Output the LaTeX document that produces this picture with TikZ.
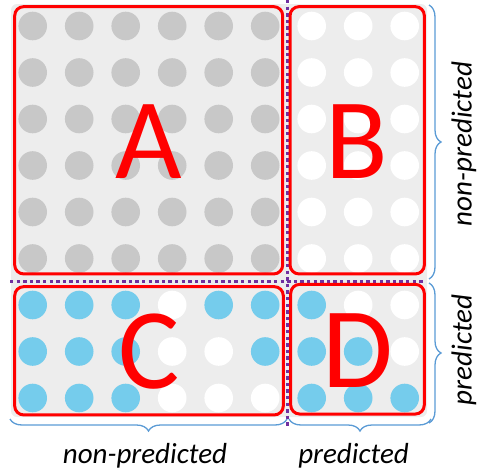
\documentclass[tikz,border=0pt]{standalone}
\usepackage{fontspec}
\newfontfamily\calib{Carlito}
\usetikzlibrary{decorations.pathreplacing}
\definecolor{panelgray}{RGB}{237,237,237}
\definecolor{dotgray}{RGB}{200,200,200}
\definecolor{dotblue}{RGB}{117,204,236}
\definecolor{divpurple}{RGB}{112,48,160}
\definecolor{braceblue}{RGB}{91,155,213}

\begin{document}
\begin{tikzpicture}[x=1pt,y=-1pt,
  dot/.style={circle,inner sep=0pt,minimum size=28.6pt},
  dotg/.style={dot,fill=dotgray},
  dotw/.style={dot,fill=white},
  dotb/.style={dot,fill=dotblue},
  region/.style={draw=red,line width=3pt,rounded corners=9pt,text=red,
    text height=77pt,font=\calib\fontsize{115}{115}\selectfont},
  divider/.style={draw=divpurple,line width=3pt,dash pattern=on 3.3pt off 3.3pt},
  bracket/.style={draw=braceblue,line width=1.3pt,decorate,
    decoration={brace,amplitude=12pt}},
  axislabel/.style={font=\calib\itshape\fontsize{29}{29}\selectfont}]
\useasboundingbox (0,0) rectangle (480,474);
% grey panel
\node [fill=panelgray,rounded corners=6pt,minimum width=416pt,minimum height=413pt] (panel) at (219,210.5) {};
% the 9x9 grid of samples
\foreach \pat [count=\r] in {{g,g,g,g,g,g,w,w,w},{g,g,g,g,g,g,w,w,w},{g,g,g,g,g,g,w,w,w},
  {g,g,g,g,g,g,w,w,w},{g,g,g,g,g,g,w,w,w},{g,g,g,g,g,g,w,w,w},
  {b,b,b,w,b,b,b,w,w},{b,b,b,w,w,b,b,b,w},{b,b,b,w,w,w,b,b,b}}
  \foreach \s [count=\c] in \pat
    \node [dot\s] (d\r-\c) at ({32.7+46.5*(\c-1)},{26+46.5*(\r-1)}) {};
% dividers
\coordinate (vtop) at (287.5,0);
\coordinate (vbot) at (287.5,427);
\coordinate (hleft) at (10,281);
\coordinate (hright) at (425,281);
\draw [divider] (vtop) -- (vbot);
\draw [divider] (hleft) -- (hright);
% the four blocks
\node [region,minimum width=268pt,minimum height=267.3pt] (A) at (148.7,140.3) {A};
\node [region,minimum width=134.3pt,minimum height=267.3pt] (B) at (357.2,140.3) {B};
\node [region,minimum width=268.6pt,minimum height=128.3pt] (C) at (149,350.8) {C};
\node [region,minimum width=133.6pt,minimum height=129.7pt] (D) at (357.5,349.2) {D};
% braces
\coordinate (r1) at (429,5);
\coordinate (r2) at (429,279);
\coordinate (r3) at (429,283);
\coordinate (r4) at (429,423);
\coordinate (b1) at (287,419);
\coordinate (b2) at (10,419);
\coordinate (b3) at (431,419);
\coordinate (b4) at (289,419);
\draw [bracket] (r1) -- (r2);
\draw [bracket] (r3) -- (r4);
\draw [bracket] (b1) -- (b2);
\draw [bracket] (b3) -- (b4);
% labels
\node [axislabel] (np-x) at (145,456) {non-predicted};
\node [axislabel] (p-x) at (353.5,456) {predicted};
\node [axislabel,rotate=90] (np-y) at (464,144) {non-predicted};
\node [axislabel,rotate=90] (p-y) at (464,350) {predicted};
\end{tikzpicture}
\end{document}
